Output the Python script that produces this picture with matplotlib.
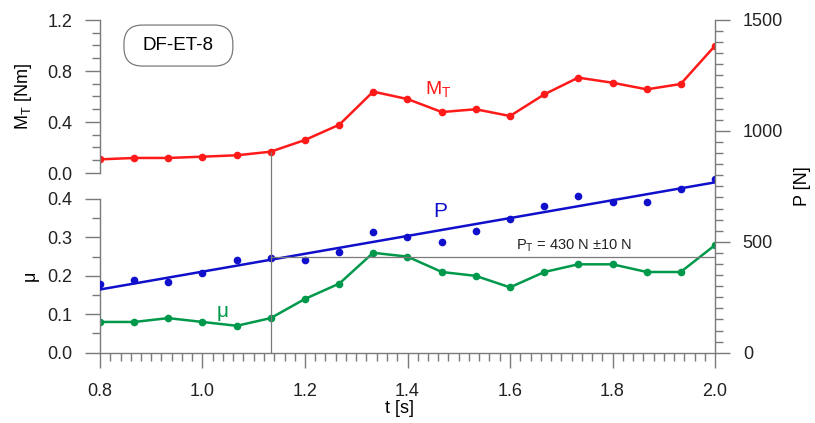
import numpy as np
import matplotlib.pyplot as plt
from matplotlib.ticker import MultipleLocator
from matplotlib.patches import FancyBboxPatch

plt.rcParams['font.family'] = ['Liberation Sans', 'DejaVu Sans']

# time samples [s]
t = [0.8, 0.867, 0.933, 1.0, 1.067, 1.133, 1.2, 1.267, 1.333, 1.4,
     1.467, 1.533, 1.6, 1.667, 1.733, 1.8, 1.867, 1.933, 2.0]

# friction torque M_T [Nm]
M_T = [0.107, 0.118, 0.118, 0.128, 0.139, 0.167, 0.259, 0.379, 0.638, 0.58,
       0.478, 0.50, 0.447, 0.617, 0.748, 0.708, 0.656, 0.698, 0.998]

# friction coefficient mu
mu = [0.08, 0.08, 0.09, 0.08, 0.07, 0.09, 0.14, 0.18, 0.26, 0.25,
      0.21, 0.20, 0.17, 0.21, 0.23, 0.23, 0.21, 0.21, 0.28]

# normal load P [N]
P = [309, 327, 317, 360, 418, 428, 416, 455, 542, 523,
     500, 550, 601, 662, 707, 680, 680, 740, 785]

# linear trend of P
t_fit = [0.8, 2.0]
P_fit = [285, 768]

t_mark = 1.133      # transition time
P_T = 430           # transition load

RED = '#ff1a1a'
BLUE = '#1010cc'
GREEN = '#00994c'
GREY = '#7a7a7a'

W, H = 815, 423
fig = plt.figure(figsize=(W / 100, H / 100), dpi=100)

x0, x1 = 100, 715
def rect(ytop, ybot):
    return [x0 / W, 1 - ybot / H, (x1 - x0) / W, (ybot - ytop) / H]

ax_m = fig.add_axes(rect(20, 173))
ax_mu = fig.add_axes(rect(199, 352.7))
ax_p = fig.add_axes(rect(20, 352.7))
ax_p.patch.set_visible(False)

for ax in (ax_m, ax_mu, ax_p):
    ax.set_xlim(0.8, 2.0)
    for s in ax.spines.values():
        s.set_visible(False)
        s.set_color(GREY)
        s.set_linewidth(1.0)
    ax.tick_params(which='major', length=11, width=1.0, color=GREY,
                   labelsize=13, labelcolor='#222222', pad=9)
    ax.tick_params(which='minor', length=6, width=1.0, color=GREY)

# top: torque
ax_m.spines['left'].set_visible(True)
ax_m.set_ylim(0, 1.2)
ax_m.yaxis.set_major_locator(MultipleLocator(0.4))
ax_m.yaxis.set_minor_locator(MultipleLocator(0.1))
ax_m.yaxis.set_major_formatter('{x:.1f}')
ax_m.set_xticks([])
ax_m.plot(t, M_T, color=RED, lw=1.8, marker='o', ms=4.5)
ax_m.set_ylabel(r'$\mathregular{M_T}$ [Nm]', fontsize=13)
ax_m.yaxis.set_label_coords(-0.108, 0.5)
ax_m.text(1.46, 0.66, r'$\mathregular{M_T}$', color=RED, fontsize=14,
          ha='center', va='center')

# sample tag in a rounded frame
box_w, box_h = 0.177, 0.268
ax_m.add_patch(FancyBboxPatch((0.039, 0.699), box_w, box_h,
                              boxstyle='round,pad=0,rounding_size=0.03',
                              mutation_aspect=615 / 153, transform=ax_m.transAxes,
                              fc='white', ec=GREY, lw=0.9))
ax_m.text(0.039 + box_w / 2, 0.699 + box_h / 2, 'DF-ET-8', fontsize=13.5,
          ha='center', va='center', transform=ax_m.transAxes)

# bottom: friction coefficient
ax_mu.spines['left'].set_visible(True)
ax_mu.spines['bottom'].set_visible(True)
ax_mu.set_ylim(0, 0.4)
ax_mu.yaxis.set_major_locator(MultipleLocator(0.1))
ax_mu.yaxis.set_minor_locator(MultipleLocator(0.05))
ax_mu.yaxis.set_major_formatter('{x:.1f}')
ax_mu.xaxis.set_major_locator(MultipleLocator(0.2))
ax_mu.xaxis.set_minor_locator(MultipleLocator(0.02))
ax_mu.xaxis.set_major_formatter('{x:.1f}')
ax_mu.tick_params(axis='x', which='major', pad=11)
ax_mu.plot(t, mu, color=GREEN, lw=1.8, marker='o', ms=4.5)
ax_mu.set_ylabel('μ', fontsize=13)
ax_mu.yaxis.set_label_coords(-0.10, 0.5)
ax_mu.set_xlabel('t [s]', fontsize=13)
ax_mu.xaxis.set_label_coords(0.487, -0.31)
ax_mu.text(1.04, 0.108, 'μ', color=GREEN, fontsize=15, ha='center', va='center')

# right: load
ax_p.spines['right'].set_visible(True)
ax_p.yaxis.tick_right()
ax_p.yaxis.set_label_position('right')
ax_p.set_ylim(0, 1500)
ax_p.yaxis.set_major_locator(MultipleLocator(500))
ax_p.yaxis.set_minor_locator(MultipleLocator(50))
ax_p.set_xticks([])
ax_p.plot(t, P, 'o', color=BLUE, ms=4.5, ls='none')
ax_p.plot(t_fit, P_fit, color=BLUE, lw=1.8)
ax_p.set_ylabel('P [N]', fontsize=13)
ax_p.yaxis.set_label_coords(1.128, 0.5)
ax_p.text(1.463, 638, 'P', color=BLUE, fontsize=15, ha='center', va='center')

ax_p.hlines(P_T, t_mark, 2.0, color=GREY, lw=0.9)
ax_p.text(1.612, 467, r'$\mathregular{P_T}$ = 430 N ±10 N', fontsize=10.5,
          color='#222222', ha='left', va='baseline')

# vertical marker from the torque point down to the time axis
m_at = M_T[t.index(t_mark)]
disp = ax_m.transData.transform((t_mark, m_at))
p_top = ax_p.transData.inverted().transform(disp)[1]
ax_p.vlines(t_mark, 0, p_top, color=GREY, lw=0.9)

fig.savefig('out.png', dpi=100)
